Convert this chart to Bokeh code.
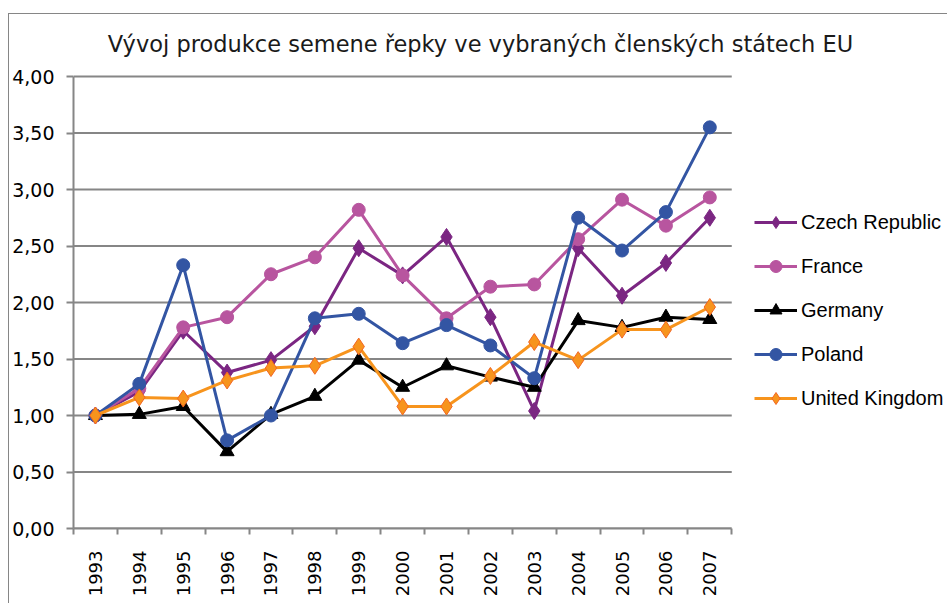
import math
from bokeh.plotting import figure
from bokeh.models import (ColumnDataSource, Range1d, FixedTicker, Legend, LegendItem,
                          Label, CustomJSTickFormatter)
from bokeh.embed import file_html
from bokeh.resources import INLINE

# ---------------- data ----------------
title_text = "Vývoj produkce semene řepky ve vybraných členských státech EU"
years = [1993, 1994, 1995, 1996, 1997, 1998, 1999, 2000, 2001, 2002, 2003, 2004, 2005, 2006, 2007]
czech = [1.00, 1.21, 1.75, 1.38, 1.49, 1.79, 2.48, 2.24, 2.58, 1.87, 1.04, 2.48, 2.06, 2.35, 2.75]
france = [1.00, 1.24, 1.78, 1.87, 2.25, 2.40, 2.82, 2.24, 1.86, 2.14, 2.16, 2.56, 2.91, 2.68, 2.93]
germany = [1.00, 1.01, 1.08, 0.68, 1.01, 1.17, 1.49, 1.25, 1.44, 1.34, 1.25, 1.84, 1.78, 1.87, 1.85]
poland = [1.00, 1.28, 2.33, 0.78, 1.00, 1.86, 1.90, 1.64, 1.80, 1.62, 1.33, 2.75, 2.46, 2.80, 3.55]
uk = [1.00, 1.16, 1.15, 1.31, 1.42, 1.44, 1.61, 1.08, 1.08, 1.35, 1.65, 1.49, 1.76, 1.76, 1.96]
series_names = ["Czech Republic", "France", "Germany", "Poland", "United Kingdom"]
y_ticks = [0.0, 0.5, 1.0, 1.5, 2.0, 2.5, 3.0, 3.5, 4.0]

# ---------------- styles ----------------
styles_map = {
    "Czech Republic": dict(color="#7B2682", marker="diamond", size=17, mline="#7B2682"),
    "France": dict(color="#B8559F", marker="circle", size=13, mline="#B8559F"),
    "Germany": dict(color="#000000", marker="triangle", size=14, mline="#000000"),
    "Poland": dict(color="#3355A3", marker="circle", size=13, mline="#3355A3"),
    "United Kingdom": dict(color="#F7941D", marker="diamond", size=17, mline="#F26522"),
}
data_map = {"Czech Republic": czech, "France": france, "Germany": germany,
            "Poland": poland, "United Kingdom": uk}

GRID = "#868686"
FONT = "DejaVu Sans"

# layout: the frame fills the canvas to the right and top; the value axis
# (0..4) occupies 452 of its 514 px height and the categories 659 of its 876 px width,
# so the title and legend can sit inside the frame
X0 = years[0] - 0.5
X1 = years[-1] + 0.5
FRAME_W, AXIS_W = 876, 659
FRAME_H, AXIS_H = 514, 452
x_end = X0 + (X1 - X0) * FRAME_W / AXIS_W
Y0, Y1 = y_ticks[0], y_ticks[-1]
y_end = Y0 + (Y1 - Y0) * FRAME_H / AXIS_H

p = figure(width=939, height=590, output_backend="svg", toolbar_location=None,
           x_range=Range1d(X0, x_end), y_range=Range1d(Y0, y_end),
           min_border_left=63, min_border_right=0, min_border_top=0, min_border_bottom=76,
           styles={"margin-left": "8px", "margin-top": "13px",
                   "border-left": "1px solid #868686", "border-top": "1px solid #868686"})
p.outline_line_color = None
p.background_fill_color = "white"
p.border_fill_color = "white"

# horizontal gridlines only across the category area
p.xgrid.grid_line_color = None
p.ygrid.grid_line_color = None
p.segment(x0=[X0] * len(y_ticks), x1=[X1] * len(y_ticks), y0=y_ticks, y1=y_ticks,
          line_color=GRID, line_width=2)

xa = p.xaxis[0]
xa.bounds = (X0, X1)
xa.ticker = FixedTicker(ticks=years, minor_ticks=[y - 0.5 for y in years] + [X1])
xa.major_tick_out = 0
xa.major_tick_in = 0
xa.minor_tick_out = 6
xa.minor_tick_in = 0
xa.minor_tick_line_color = GRID
xa.minor_tick_line_width = 2
xa.axis_line_color = GRID
xa.axis_line_width = 2
xa.major_label_orientation = math.pi / 2
xa.major_label_standoff = 16
xa.major_label_text_font = FONT
xa.major_label_text_font_size = "18px"
xa.major_label_text_color = "#000000"
xa.major_label_overrides = {y: str(y) for y in years}

ya = p.yaxis[0]
ya.bounds = (Y0, Y1)
ya.ticker = FixedTicker(ticks=y_ticks)
ya.formatter = CustomJSTickFormatter(code="return tick.toFixed(2).replace('.', ',');")
ya.major_tick_out = 7
ya.major_tick_in = 0
ya.minor_tick_out = 0
ya.minor_tick_in = 0
ya.major_tick_line_color = GRID
ya.major_tick_line_width = 2
ya.axis_line_color = GRID
ya.axis_line_width = 2
ya.major_label_standoff = 12
ya.major_label_text_font = FONT
ya.major_label_text_font_size = "19px"
ya.major_label_text_color = "#000000"

items = []
for name in series_names:
    st = styles_map[name]
    src = ColumnDataSource(dict(x=years, y=data_map[name]))
    ln = p.line("x", "y", source=src, line_color=st["color"], line_width=3)
    sc = p.scatter("x", "y", source=src, marker=st["marker"], size=st["size"],
                   fill_color=st["color"], line_color=st["mline"], line_width=1)
    items.append(LegendItem(label=name, renderers=[ln, sc]))

legend = Legend(items=items, location=(681, 115), orientation="vertical",
                glyph_width=43, glyph_height=30, label_height=30, spacing=14,
                padding=0, margin=0, border_line_color=None, background_fill_alpha=0,
                label_text_font="Liberation Sans", label_text_font_size="20px",
                label_text_color="#000000", label_standoff=4)
p.add_layout(legend)

title = Label(x=407, y=485, x_units="screen", y_units="screen", text=title_text,
              text_align="center", text_baseline="middle", text_font=FONT,
              text_font_size="22.5px", text_color="#1a1a1a")
p.add_layout(title)

open("out.html", "w").write(file_html(p, INLINE))
